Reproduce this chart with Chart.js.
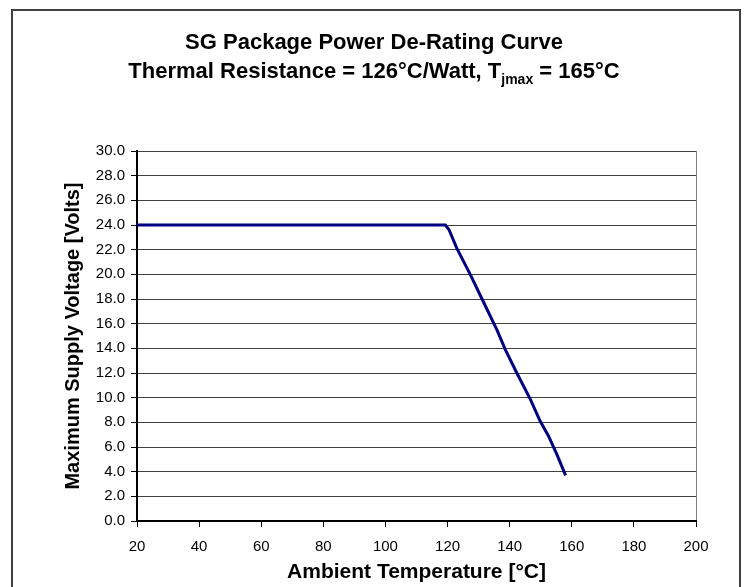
<!DOCTYPE html>
<html>
<head>
<meta charset="utf-8">
<script src="https://cdn.jsdelivr.net/npm/chart.js@4.4.1/dist/chart.umd.min.js"></script>
<style>
  html, body { margin: 0; padding: 0; background: #fff; }
  #wrap { position: relative; width: 744px; height: 587px; overflow: hidden; }
  #frame { position: absolute; left: 11px; top: 9px; width: 726px; height: 620px; border: 2px solid #404040; }
  #derating { position: absolute; left: 0; top: 0; }
</style>
</head>
<body>
<div id="wrap">
  <div id="frame"></div>
  <canvas id="derating" width="744" height="587"></canvas>
</div>
<script>
var titleLine1 = "SG Package Power De-Rating Curve";
var titleLine2 = ["Thermal Resistance = 126°C/Watt, T", "jmax", " = 165°C"];
var xTitle = "Ambient Temperature [°C]";
var yTitle = "Maximum Supply Voltage [Volts]";

var ambientTemp = [20, 119.3, 120.5, 123, 127.3, 131.1, 135.9, 138.6, 142.3, 146.6, 149.8, 152.5, 155.2, 158];
var maxVoltage  = [24, 24, 23.6, 22.1, 20.0, 18.0, 15.5, 13.9, 12.0, 9.9, 8.1, 6.9, 5.4, 3.7];

var xTicks = [20, 40, 60, 80, 100, 120, 140, 160, 180, 200];
var yTicks = [0, 2, 4, 6, 8, 10, 12, 14, 16, 18, 20, 22, 24, 26, 28, 30];

var fontFamily = "'Liberation Sans', Arial, sans-serif";

var points = [];
for (var i in ambientTemp) {
  points.push({ x: ambientTemp[i], y: maxVoltage[i] });
}

// two line title, second line has a subscript
var titlePlugin = {
  id: 'titleLines',
  afterDraw: function (chart) {
    var ctx = chart.ctx;
    var cx = 374;
    ctx.save();
    ctx.fillStyle = '#000';
    ctx.textBaseline = 'middle';
    ctx.textAlign = 'center';
    ctx.font = "bold 22px " + fontFamily;
    ctx.fillText(titleLine1, cx, 43);

    ctx.textAlign = 'left';
    var big = "bold 22px " + fontFamily;
    var small = "bold 14px " + fontFamily;
    ctx.font = big;
    var w1 = ctx.measureText(titleLine2[0]).width;
    var w3 = ctx.measureText(titleLine2[2]).width;
    ctx.font = small;
    var w2 = ctx.measureText(titleLine2[1]).width;
    var x0 = cx - (w1 + w2 + w3) / 2;
    ctx.font = big;
    ctx.fillText(titleLine2[0], x0, 72);
    ctx.font = small;
    ctx.fillText(titleLine2[1], x0 + w1, 80);
    ctx.font = big;
    ctx.fillText(titleLine2[2], x0 + w1 + w2, 72);
    ctx.restore();
  }
};

var chart = new Chart(document.getElementById('derating'), {
  type: 'scatter',
  data: {
    datasets: [{
      label: 'Max Supply Voltage',
      data: points,
      showLine: true,
      borderColor: '#000080',
      backgroundColor: '#000080',
      borderWidth: 3,
      pointRadius: 0,
      tension: 0
    }]
  },
  options: {
    responsive: false,
    animation: false,
    layout: { padding: { left: 0, top: 151, right: 48, bottom: 0 } },
    plugins: {
      legend: { display: false },
      title: { display: false },
      tooltip: { enabled: false }
    },
    scales: {
      x: {
        type: 'linear',
        min: 20,
        max: 200,
        afterBuildTicks: function (scale) {
          scale.ticks = xTicks.map(function (v) { return { value: v }; });
        },
        afterFit: function (scale) { scale.height = 66; },
        grid: {
          drawOnChartArea: true,
          drawTicks: true,
          tickLength: 6,
          tickColor: '#000',
          color: function (c) { return c.tick && c.tick.value === 200 ? '#808080' : 'rgba(0,0,0,0)'; }
        },
        border: { color: '#000', width: 2 },
        ticks: {
          color: '#000',
          padding: 11,
          maxRotation: 0,
          font: { family: fontFamily, size: 15 }
        },
        title: {
          display: true,
          text: xTitle,
          color: '#000',
          padding: { top: 2, bottom: 2 },
          font: { family: fontFamily, size: 21, weight: 'bold' }
        }
      },
      y: {
        min: 0,
        max: 30,
        afterBuildTicks: function (scale) {
          scale.ticks = yTicks.map(function (v) { return { value: v }; });
        },
        afterFit: function (scale) { scale.width = 137; },
        grid: {
          drawTicks: true,
          tickLength: 6,
          tickColor: '#000',
          color: '#404040',
          lineWidth: 1
        },
        border: { color: '#000', width: 2 },
        ticks: {
          color: '#000',
          padding: 6,
          font: { family: fontFamily, size: 15 },
          callback: function (v) { return v.toFixed(1); }
        },
        title: {
          display: true,
          text: yTitle,
          color: '#000',
          padding: { top: 61, bottom: 61 },
          font: { family: fontFamily, size: 20, weight: 'bold' }
        }
      }
    }
  },
  plugins: [titlePlugin]
});
</script>
</body>
</html>
